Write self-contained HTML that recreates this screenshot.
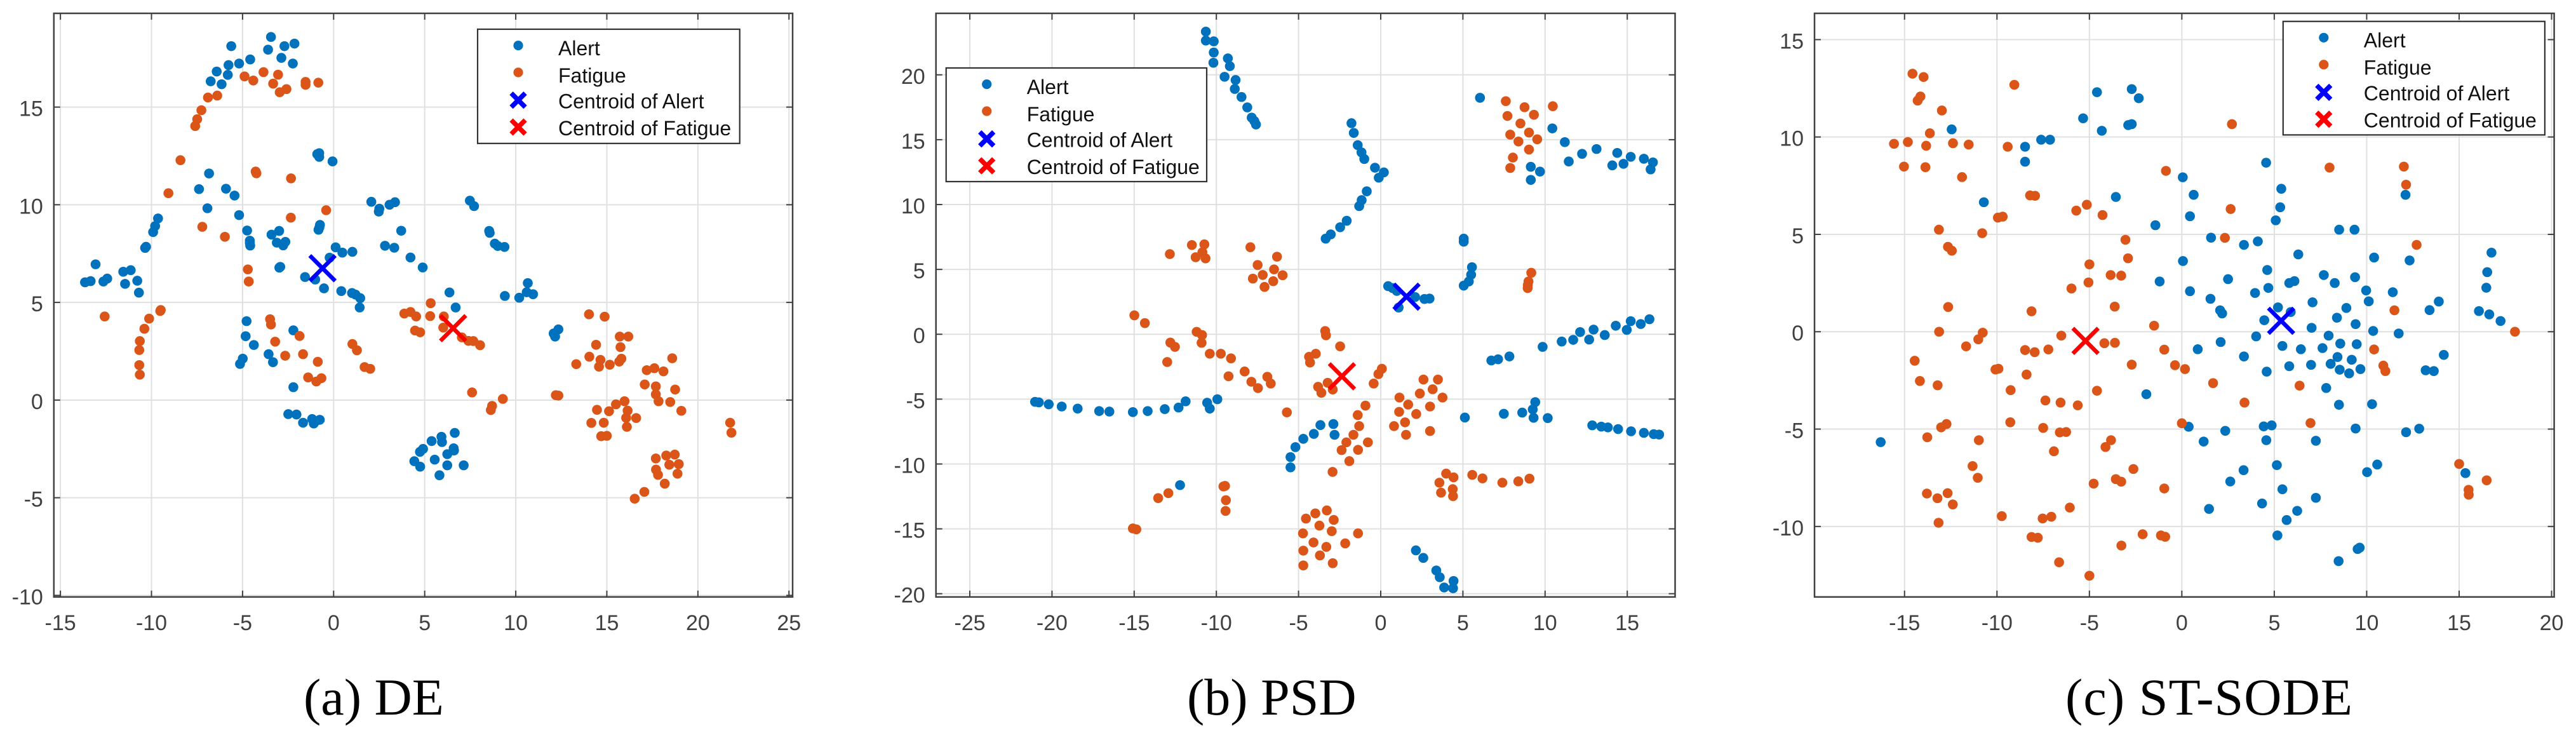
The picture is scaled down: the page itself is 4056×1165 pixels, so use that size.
<!DOCTYPE html>
<html lang="en">
<head>
<meta charset="utf-8">
<title>t-SNE feature comparison: DE, PSD, ST-SODE</title>
<style>
html,body{margin:0;padding:0;background:#fff;width:4056px;height:1165px;overflow:hidden}
svg{display:block}
.tick{font-family:"Liberation Sans",sans-serif;font-size:34px;fill:#404040}
.leg{font-family:"Liberation Sans",sans-serif;font-size:32px;fill:#111}
.cap{font-family:"Liberation Serif",serif;font-size:82px;fill:#000}
</style>
</head>
<body>
<svg id="figure" xmlns="http://www.w3.org/2000/svg" width="4056" height="1165" viewBox="0 0 4056 1165">
<rect x="0" y="0" width="4056" height="1165" fill="#fff"/>
<g id="panel-de"></g>
<g id="panel-psd"></g>
<g id="panel-stsode"></g>
<text class="cap" x="478" y="1125">(a) DE</text>
<text class="cap" x="1869" y="1125">(b) PSD</text>
<text class="cap" x="3252" y="1125" textLength="452" lengthAdjust="spacing">(c) ST-SODE</text>
</svg>
<script>
const legendLabels = ["Alert", "Fatigue", "Centroid of Alert", "Centroid of Fatigue"];

const deXTicks = [-15, -10, -5, 0, 5, 10, 15, 20, 25];
const deYTicks = [-10, -5, 0, 5, 10, 15];
const psdXTicks = [-25, -20, -15, -10, -5, 0, 5, 10, 15];
const psdYTicks = [-20, -15, -10, -5, 0, 5, 10, 15, 20];
const sodeXTicks = [-15, -10, -5, 0, 5, 10, 15, 20];
const sodeYTicks = [-10, -5, 0, 5, 10, 15];

const deXLim = [-15.36, 25.2];
const deYLim = [-10.08, 19.8];
const psdXLim = [-27.06, 17.91];
const psdYLim = [-20.25, 24.74];
const sodeXLim = [-19.87, 20.14];
const sodeYLim = [-13.62, 16.35];

const deCentroidAlert = [-0.61, 6.75];
const deCentroidFatigue = [6.56, 3.68];
const psdCentroidAlert = [1.57, 2.9];
const psdCentroidFatigue = [-2.36, -3.24];
const sodeCentroidAlert = [5.37, 0.56];
const sodeCentroidFatigue = [-5.21, -0.47];

const deAlert = [[-3.44,18.59],[-3.6,17.94],[-2.7,18.12],[-2.15,18.25],[-5.62,18.12],[-2.87,17.52],[-2.24,17.23],[-4.58,17.44],[-5.19,17.23],[-5.77,17.15],[-5.81,16.65],[-6.42,16.82],[-6.15,16.17],[-6.75,16.32],
[-0.79,12.64],[-0.9,12.59],[-0.79,12.45],[-0.06,12.22],[-6.84,11.6],[-7.39,10.8],[-5.91,10.82],[-5.44,10.47],[-6.93,9.82],[-5.19,9.47],[-4.75,8.68],[-4.6,8.16],[-4.6,8.04],[-4.58,7.91],[-3.41,8.47],[-2.99,8.66],[-3.12,8.06],[-2.77,7.92],[-2.65,8.1],[-0.75,8.97],[-0.78,8.84],[-0.83,8.72],[0.11,7.82],[0.48,7.55],[1.03,7.59],[-0.22,7.29],[-1.57,6.3],[-1.01,6.17],[-2.98,6.78],[-2.93,6.82],[-0.53,5.72],[0.42,5.58],[1.01,5.48],[1.2,5.4],[1.46,5.22],[1.43,4.74],
[2.07,10.15],[2.51,9.8],[2.48,9.65],[3.07,10],[3.37,10.13],[3.71,8.67],[2.82,7.9],[3.33,7.8],[4.22,7.3],[4.89,6.79],[7.48,10.21],[7.71,9.93],[8.54,8.66],[8.57,8.56],[8.85,8.01],[9.01,7.89],[9.38,7.84],[6.36,5.51],[6.7,4.74],[10.66,5.99],[10.6,5.52],[10.95,5.42],[10.19,5.24],[9.4,5.33],[12.34,3.62],[12.08,3.41],[12.16,3.25],
[-13.07,6.95],[-13.65,6.03],[-13.34,6.09],[-12.64,6.07],[-12.43,6.22],[-11.55,6.57],[-11.14,6.65],[-11.45,5.95],[-10.78,6.11],[-10.69,5.5],[-10.35,7.79],[-10.3,7.85],[-9.91,8.6],[-9.8,8.91],[-9.64,9.3],
[-4.78,4.04],[-4.83,3.27],[-4.38,2.82],[-4.99,2.12],[-5.14,1.85],[-3.57,2.35],[-3.33,1.94],[-2.21,3.57],[-2.21,0.66],[-2.49,-0.72],[-2.04,-0.74],[-1.68,-1.16],[-1.18,-0.97],[-1.09,-1.2],[-1,-1.09],[-0.76,-1.01],
[5.38,-2.1],[5.92,-1.88],[5.95,-2.15],[6.65,-1.68],[4.91,-2.5],[4.74,-2.65],[4.43,-3.13],[4.75,-3.41],[5.55,-3.05],[5.81,-3.85],[6.24,-2.77],[6.59,-2.47],[6.61,-2.58],[6.24,-3.34],[7.14,-3.34]];

const deFatigue = [[-0.84,16.25],[-1.54,16.29],[-1.54,16.14],[-2.59,15.92],[-2.96,15.76],[-3.32,16.2],[-3.05,16.66],[-3.85,16.79],[-4.41,16.36],[-4.89,16.57],[-6.39,15.59],[-6.9,15.49],[-7.26,14.84],[-7.49,14.38],[-7.6,14.03],[-8.41,12.28],[-9.07,10.59],[-7.21,8.87],[-5.97,8.36],[-4.28,11.7],[-4.24,11.61],[-2.34,11.35],[-2.35,9.34],[-0.41,9.72],[-4.71,6.69],[-4.66,6.07],
[-12.57,4.28],[-9.52,4.56],[-9.49,4.61],[-10.13,4.17],[-10.39,3.65],[-10.64,3.02],[-10.67,2.56],[-10.67,1.79],[-10.64,1.3],[-3.49,4.14],[-3.44,3.87],[-1.87,3.28],[-3.21,2.99],[-2.66,2.27],[-1.68,2.35],[-0.87,1.96],[1.03,2.87],[1.28,2.55],[1.7,1.69],[2.01,1.6],[-1.4,1.16],[-0.95,0.95],[-0.67,1.12],
[5.33,4.96],[5.3,4.3],[3.88,4.43],[4.22,4.51],[4.53,4.28],[4.47,3.56],[4.75,3.47],[6.05,4.28],[6.02,3.71],[7.04,3.21],[7.4,3.03],[7.67,3.02],[8.04,2.81],
[14.02,4.39],[14.88,4.27],[15.71,3.25],[16.18,3.25],[14.41,2.83],[15.75,2.71],[14.04,2.22],[14.65,2.06],[15.8,2.12],[15.68,1.97],[13.32,1.84],[14.57,1.71],[15.16,1.81],[18.59,2.14],[17.19,1.53],[17.61,1.63],[18.11,1.47],
[17.08,0.8],[17.69,0.7],[17.69,0.29],[17.84,-0.06],[18.75,0.54],[18.48,-0.1],[19.09,-0.55],[15.97,-0.06],[15.5,-0.22],[14.46,-0.5],[15.12,-0.57],[16.14,-0.54],[16.06,-0.91],[16.61,-0.92],[16.1,-1.37],[14.15,-1.17],[14.83,-1.16],[14.69,-1.85],[15,-1.83],
[7.6,0.39],[9.29,0.06],[8.7,-0.3],[8.63,-0.51],[12.2,0.25],[12.34,0.23],[21.77,-1.16],[21.84,-1.67],[17.69,-2.99],[18.26,-2.84],[18.73,-2.79],[18.43,-3.31],[18.95,-3.28],[17.7,-3.56],[17.81,-3.83],[18.88,-3.77],[18.18,-4.28],[17.06,-4.7],[16.53,-5.05]];

const psdAlert = [[-10.64,23.33],[-10.64,22.64],[-10.16,22.58],[-10.16,21.72],[-10.18,20.93],[-9.3,21.27],[-9.18,20.67],[-9.5,19.85],[-8.83,19.6],[-8.88,18.91],[-8.47,18.29],[-8.12,17.49],[-7.85,16.7],[-7.69,16.44],[-7.59,16.17],
[-1.78,16.27],[-1.64,15.52],[-1.4,14.58],[-1.17,14.02],[-1,13.51],[-0.35,12.84],[0.19,12.48],[-0.12,12.07],[-0.85,11.02],[-1.16,10.34],[-1.31,9.88],[-2.07,8.75],[-2.47,8.25],[-3.04,7.7],[-3.35,7.37],
[6.04,18.23],[10.44,15.87],[11.2,14.81],[11.44,13.32],[12.25,13.91],[13.13,14.28],[14.39,13.98],[14.09,13.02],[14.77,13.14],[15.21,13.68],[16.01,13.53],[16.56,13.25],[16.42,12.71],[9.13,12.91],[9.69,12.54],[9.13,11.9],
[5.05,7.37],[5.05,7.14],[5.55,5.17],[5.5,4.59],[5.36,4.07],[5.05,3.75],[0.45,3.71],[0.72,3.56],[0.98,3.34],[2.09,2.87],[2.66,2.72],[2.97,2.75],[1.09,2.06],
[6.73,-2.02],[7.14,-1.93],[7.83,-1.71],[9.85,-0.97],[11.01,-0.56],[11.71,-0.43],[12.13,0.17],[12.68,-0.41],[12.95,0.36],[13.63,-0.06],[14.3,0.66],[14.97,0.34],[15.21,1.01],[15.82,0.79],[16.35,1.16],
[-21.03,-5.21],[-20.8,-5.25],[-20.2,-5.4],[-19.41,-5.57],[-18.44,-5.73],[-17.13,-5.92],[-16.51,-5.96],[-15.08,-6],[-14.18,-5.92],[-13.14,-5.77],[-12.3,-5.65],[-11.87,-5.17],[-10.56,-5.28],[-10.4,-5.73],[-9.94,-5.01],[-12.21,-11.63],
[-5.49,-10.26],[-5.49,-9.47],[-5.19,-8.7],[-4.71,-8.06],[-4.07,-7.68],[-3.67,-7],[-2.88,-6.92],[-2.81,-7.75],
[5.12,-6.42],[7.49,-6.13],[8.61,-6.04],[9.4,-5.23],[9.25,-5.79],[9.3,-6.44],[10.16,-6.46],[12.87,-7.02],[13.42,-7.12],[13.82,-7.18],[14.44,-7.31],[15.23,-7.48],[16.01,-7.6],[16.61,-7.7],[16.94,-7.73],
[2.14,-16.66],[2.59,-17.24],[3.38,-18.21],[3.59,-18.73],[3.86,-19.52],[4.43,-19.02],[4.4,-19.58]];

const psdFatigue = [[-12.83,6.18],[-11.49,6.88],[-10.73,6.93],[-10.85,6.32],[-11.26,5.94],[-10.66,5.85],[-7.93,6.71],[-6.31,5.98],[-7.49,5.34],[-6.49,5],[-7.18,4.57],[-5.97,4.55],[-7.78,4.29],[-6.54,4.09],[-7.07,3.65],
[-14.99,1.46],[-14.35,0.86],[-11.2,0.19],[-10.87,-0.06],[-10.9,-0.66],[-12.8,-0.64],[-12.52,-0.97],[-12.99,-2.14],[-10.4,-1.5],[-9.73,-1.5],[-9.11,-1.86],[-8.28,-2.87],[-9.26,-3.24],[-6.9,-3.28],[-6.69,-3.8],[-7.87,-3.66],[-7.47,-4.15],[-5.71,-6.02],
[-3.38,0.25],[-3.33,-0.08],[-4.36,-1.74],[-3.95,-1.5],[-4.3,-2.18],[-3.81,-4.05],[-3.61,-4.51],[-3.23,-3.74],[-2.92,-4.26],[-2.47,-0.93],[0.07,-2.66],[-0.14,-3.07],[-0.43,-3.8],
[2.6,-3.49],[3.48,-3.49],[2.38,-4.57],[3.16,-4.24],[3.76,-4.88],[1.14,-4.88],[1.67,-5.42],[1.12,-5.98],[2.16,-6.15],[3,-5.57],[0.81,-7.08],[1.48,-6.79],[1.54,-7.75],[3,-7.46],
[-0.93,-5.5],[-1.4,-6.23],[-1.31,-7.08],[-1.66,-7.75],[-2.09,-8.33],[-0.78,-8.33],[-2.38,-8.93],[-1.38,-8.91],[-1.91,-9.78],[-2.93,-10.61],
[3.98,-10.74],[4.43,-11.03],[3.57,-11.44],[4.38,-11.94],[3.67,-12.21],[4.4,-12.48],[5.57,-10.84],[6.19,-11.11],[7.4,-11.44],[8.37,-11.34],[9.05,-11.13],
[9.16,4.74],[8.99,4.07],[8.95,3.8],[8.94,3.56],
[7.61,17.97],[8.75,17.5],[10.47,17.58],[9.32,16.92],[7.71,16.83],[8.5,16.25],[9.02,15.55],[7.88,15.39],[9.52,15.03],[8.38,14.86],[9.02,14.24],[8.04,13.62],[7.88,12.82],
[-12.92,-12.25],[-13.54,-12.63],[-9.57,-11.73],[-9.47,-11.69],[-9.42,-12.79],[-9.44,-13.62],[-15.08,-14.97],[-14.87,-15.04],
[-4.55,-14.21],[-3.98,-13.81],[-3.28,-13.58],[-2.86,-14.31],[-3.73,-14.75],[-2.98,-15.18],[-4.73,-15.35],[-4.09,-16.05],[-3.31,-16.39],[-4.71,-16.68],[-3.7,-17.05],[-2.92,-17.65],[-4.71,-17.82],[-1.38,-15.35],[-2.16,-16.12]];

const sodeAlert = [[-12.45,10.39],[-8.48,9.5],[-8.48,8.73],[-7.61,9.86],[-7.13,9.86],[-10.71,6.65],[-5.34,10.96],[-4.59,12.3],[-2.71,12.46],[-2.33,11.99],[-4.33,10.32],[-2.9,10.61],[-2.71,10.66],[-3.57,6.92],[-1.43,5.47],[0.05,7.93],[-1.2,2.58],
[0.64,7.03],[0.44,5.93],[1.58,4.83],[3.36,4.46],[4.11,4.64],[4.56,8.68],[5.38,7.34],[5.32,6.39],[5.08,5.72],[8.51,5.24],[9.34,5.24],[6.3,3.97],[10.4,3.81],[12.32,3.66],[12.1,7.03],[0.06,3.63],[0.44,2.08],[2.5,2.7],[4.62,3.17],[4.68,2.25],[3.96,1.99],[5.81,2.5],[6.09,2.6],[7.68,2.91],[8.27,2.5],[9.37,2.8],[9.97,2.12],[10.11,1.56],[11.41,2.03],[7.07,1.51],[8.9,1.22],[8.39,0.72],[9.4,0.39],[7.02,0.2],[10.35,0.04],[11.73,-0.09],[7.94,-0.2],[13.9,1.55],[13.4,1.11],[16.75,4.06],[16.52,3.06],[16.47,2.26],[16.07,1.06],[16.63,0.89],[17.24,0.55],[1.55,1.69],[2.07,1.1],[2.18,0.94],[5.2,1.25],[5.89,1.01],[4.46,0.59],[4.02,-0.24],
[2.1,-0.53],[0.86,-0.9],[3.36,-1.27],[5.44,-0.73],[6.44,-0.9],[7.61,-0.84],[8.57,-0.61],[9.46,-0.64],[8.42,-1.3],[9.19,-1.44],[8.05,-1.65],[6.99,-1.7],[5.81,-1.77],[4.59,-2.05],[8.54,-1.95],[9.05,-2.14],[9.66,-1.92],[14.17,-1.19],[13.19,-1.98],[13.63,-2.02],[7.81,-2.89],[8.5,-3.75],[10.29,-3.72],[-1.92,-3.21],[0.37,-4.88],[2.35,-5.09],[1.18,-5.64],[4.43,-4.86],[4.86,-4.81],[4.57,-5.57],[7.25,-5.6],[9.4,-4.97],[12.13,-5.16],[12.84,-4.98],[5.14,-6.85],[3.34,-7.11],[2.62,-7.69],[5.44,-8.09],[10.02,-7.21],[10.57,-6.82],[15.34,-7.26],[7.25,-8.53],[4.34,-8.82],[6.24,-9.2],[1.47,-9.1],[5.67,-9.67],[5.17,-10.46],[9.62,-11.09],[9.51,-11.16],[8.48,-11.78],[-16.29,-5.67]];

const sodeFatigue = [[-14.57,13.25],[-13.97,13.08],[-14.14,12.08],[-14.29,11.87],[-12.98,11.36],[-9.06,12.68],[-13.63,10.19],[-14.82,9.74],[-15.57,9.65],[-13.83,9.55],[-12.38,9.68],[-11.53,9.61],[-9.42,9.5],[-15.03,8.48],[-13.87,8.45],[-11.89,7.94],[-8.21,7],[-7.94,6.98],[-5.14,6.52],[-5.71,6.22],[-4.29,5.99],[-9.95,5.86],[-9.69,5.91],[-13.14,5.24],[-10.8,5.06],[-12.65,4.36],[-12.44,4.16],[-3.05,4.72],[-2.91,3.77],[-5,3.46],[-3.85,2.91],[-3.28,2.88],[-5.05,2.53],[-5.97,2.22],[-3.63,1.29],[-12.64,1.27],[-8.13,1.05],[-1.5,0.31],[-13.13,0],[-10.77,-0.05],[-11.01,-0.39],[-11.67,-0.75],[-6.52,-0.2],[-4.19,-0.59],[-3.62,-0.57],[-8.48,-0.94],[-7.96,-1.05],[-7.22,-0.91],[-0.95,-0.92],[-14.45,-1.49],[-2.71,-1.69],[-0.37,-1.72],[0.17,-1.92],[-10.08,-1.94],[-9.92,-1.9],[-8.4,-2.2],
[-14.17,-2.53],[-13.21,-2.75],[-9.26,-3],[-4.59,-3.03],[-7.38,-3.53],[-6.56,-3.64],[-5.63,-3.78],[-9.28,-4.65],[-7.5,-4.94],[-12.73,-4.74],[-13.02,-4.91],[-13.77,-5.42],[-10.98,-5.57],[-6.6,-5.17],[-6.26,-5.15],[-3.83,-5.57],[-4.13,-5.92],[-6.92,-6.14],[-11.32,-6.9],[-11.04,-7.5],[-2.62,-7.05],[-3.57,-7.57],[-3.28,-7.7],[-4.77,-7.8],[-0.95,-8.05],[-13.79,-8.31],[-12.67,-8.29],[-13.22,-8.55],[-12.39,-8.87],[-6.06,-9.03],[-9.74,-9.47],[-7.06,-9.5],[-7.53,-9.59],[-13.16,-9.81],[-8.13,-10.54],[-7.79,-10.58],[-2.12,-10.4],[-1.13,-10.46],[-0.9,-10.53],[-3.27,-10.98],[-6.64,-11.84],[-5,-12.53],
[2.71,10.66],[-0.86,8.26],[2.64,6.3],[2.33,4.82],[7.99,8.43],[12.01,8.48],[12.13,7.55],[12.7,4.46],[11.5,1.1],[18.02,0],[10.4,-0.91],[10.9,-1.74],[11.01,-2.02],[1.69,-2.64],[6.37,-2.77],[3.39,-3.64],[0,-4.7],[6.96,-4.69],[15,-6.79],[16.49,-7.63],[15.51,-8.12],[15.52,-8.37]];

const NS = 'http://www.w3.org/2000/svg';
const ALERT_COLOR = '#0072BD';
const FATIGUE_COLOR = '#DB5518';
const GRID_COLOR = '#E0E0E0';
const AXIS_COLOR = '#404040';

function svgEl(parent, tag, attrs) {
  const el = document.createElementNS(NS, tag);
  for (const k in attrs) el.setAttribute(k, attrs[k]);
  parent.appendChild(el);
  return el;
}

function drawCross(parent, cx, cy, half, width, color, name) {
  const el = svgEl(parent, 'path', {
    d: 'M' + (cx - half) + ' ' + (cy - half) + 'L' + (cx + half) + ' ' + (cy + half) +
       'M' + (cx - half) + ' ' + (cy + half) + 'L' + (cx + half) + ' ' + (cy - half),
    stroke: color, 'stroke-width': width, fill: 'none'
  });
  
  
  return el;
}

function drawPanel(cfg) {
  const g = document.getElementById(cfg.id);
  const xScale = function (v) { return cfg.left + (v - cfg.xLim[0]) / (cfg.xLim[1] - cfg.xLim[0]) * (cfg.right - cfg.left); };
  const yScale = function (v) { return cfg.bottom - (v - cfg.yLim[0]) / (cfg.yLim[1] - cfg.yLim[0]) * (cfg.bottom - cfg.top); };

  cfg.xTicks.forEach(function (t) {
    const x = xScale(t);
    const grid = svgEl(g, 'line', { x1: x, x2: x, y1: cfg.top, y2: cfg.bottom, stroke: GRID_COLOR, 'stroke-width': 2 });
    
    
  });
  cfg.yTicks.forEach(function (t) {
    const y = yScale(t);
    const grid = svgEl(g, 'line', { x1: cfg.left, x2: cfg.right, y1: y, y2: y, stroke: GRID_COLOR, 'stroke-width': 2 });
    
    
  });

  cfg.alert.forEach(function (p) {
    const dot = svgEl(g, 'circle', { cx: xScale(p[0]), cy: yScale(p[1]), r: 7.8, fill: ALERT_COLOR });
    
    
  });
  cfg.fatigue.forEach(function (p) {
    const dot = svgEl(g, 'circle', { cx: xScale(p[0]), cy: yScale(p[1]), r: 7.8, fill: FATIGUE_COLOR });
    
    
  });

  drawCross(g, xScale(cfg.centroidAlert[0]), yScale(cfg.centroidAlert[1]), 20, 6.5, '#0000FF', 'centroid-alert');
  drawCross(g, xScale(cfg.centroidFatigue[0]), yScale(cfg.centroidFatigue[1]), 20, 6.5, '#FF0000', 'centroid-fatigue');

  const box = svgEl(g, 'rect', { x: cfg.left, y: cfg.top, width: cfg.right - cfg.left, height: cfg.bottom - cfg.top, fill: 'none', stroke: AXIS_COLOR, 'stroke-width': 2.5 });
  
  

  cfg.xTicks.forEach(function (t) {
    const x = xScale(t);
    const tb = svgEl(g, 'line', { x1: x, x2: x, y1: cfg.bottom, y2: cfg.bottom - 10, stroke: AXIS_COLOR, 'stroke-width': 2 });
    
    
    const tt = svgEl(g, 'line', { x1: x, x2: x, y1: cfg.top, y2: cfg.top + 10, stroke: AXIS_COLOR, 'stroke-width': 2 });
    
    
    const lab = svgEl(g, 'text', { x: x, y: 992, class: 'tick', 'text-anchor': 'middle' });
    lab.textContent = String(t);
    
    
  });
  cfg.yTicks.forEach(function (t) {
    const y = yScale(t);
    const tl = svgEl(g, 'line', { x1: cfg.left, x2: cfg.left + 10, y1: y, y2: y, stroke: AXIS_COLOR, 'stroke-width': 2 });
    
    
    const tr = svgEl(g, 'line', { x1: cfg.right, x2: cfg.right - 10, y1: y, y2: y, stroke: AXIS_COLOR, 'stroke-width': 2 });
    
    
    const lab = svgEl(g, 'text', { x: cfg.left - 17, y: y + 14, class: 'tick', 'text-anchor': 'end' });
    lab.textContent = String(t);
    
    
  });

  const lg = svgEl(g, 'g', {});
  
  
  const lb = svgEl(lg, 'rect', { x: cfg.legend[0], y: cfg.legend[1], width: cfg.legend[2], height: cfg.legend[3], fill: '#fff', stroke: '#303030', 'stroke-width': 2.2 });
  
  
  const rowY = [25.6, 68, 111.7, 154];
  const baseY = [41, 84, 124.5, 167];
  const mx = cfg.legend[0] + 64;
  const my = cfg.legend[1];
  const a = svgEl(lg, 'circle', { cx: mx, cy: my + rowY[0], r: 7.6, fill: ALERT_COLOR });
  
  
  const f = svgEl(lg, 'circle', { cx: mx, cy: my + rowY[1], r: 7.6, fill: FATIGUE_COLOR });
  
  
  drawCross(lg, mx, my + rowY[2], 11, 7.5, '#0000FF', 'legend-marker-centroid-alert');
  drawCross(lg, mx, my + rowY[3], 11, 7.5, '#FF0000', 'legend-marker-centroid-fatigue');
  legendLabels.forEach(function (label, i) {
    const t = svgEl(lg, 'text', { x: cfg.legend[0] + 127, y: my + baseY[i], class: 'leg' });
    t.textContent = label;
    
    
  });
}

drawPanel({ id: 'panel-de', left: 84.8, right: 1248, top: 21, bottom: 939.8, xLim: deXLim, yLim: deYLim, xTicks: deXTicks, yTicks: deYTicks, alert: deAlert, fatigue: deFatigue, centroidAlert: deCentroidAlert, centroidFatigue: deCentroidFatigue, legend: [752, 46, 412.7, 179.8] });
drawPanel({ id: 'panel-psd', left: 1473.7, right: 2637.5, top: 21, bottom: 939.8, xLim: psdXLim, yLim: psdYLim, xTicks: psdXTicks, yTicks: psdYTicks, alert: psdAlert, fatigue: psdFatigue, centroidAlert: psdCentroidAlert, centroidFatigue: psdCentroidFatigue, legend: [1489.7, 107, 410.3, 178.9] });
drawPanel({ id: 'panel-stsode', left: 2857, right: 4021.6, top: 21, bottom: 939.8, xLim: sodeXLim, yLim: sodeYLim, xTicks: sodeXTicks, yTicks: sodeYTicks, alert: sodeAlert, fatigue: sodeFatigue, centroidAlert: sodeCentroidAlert, centroidFatigue: sodeCentroidFatigue, legend: [3594.8, 33.7, 412.1, 178.7] });
</script>
</body>
</html>
